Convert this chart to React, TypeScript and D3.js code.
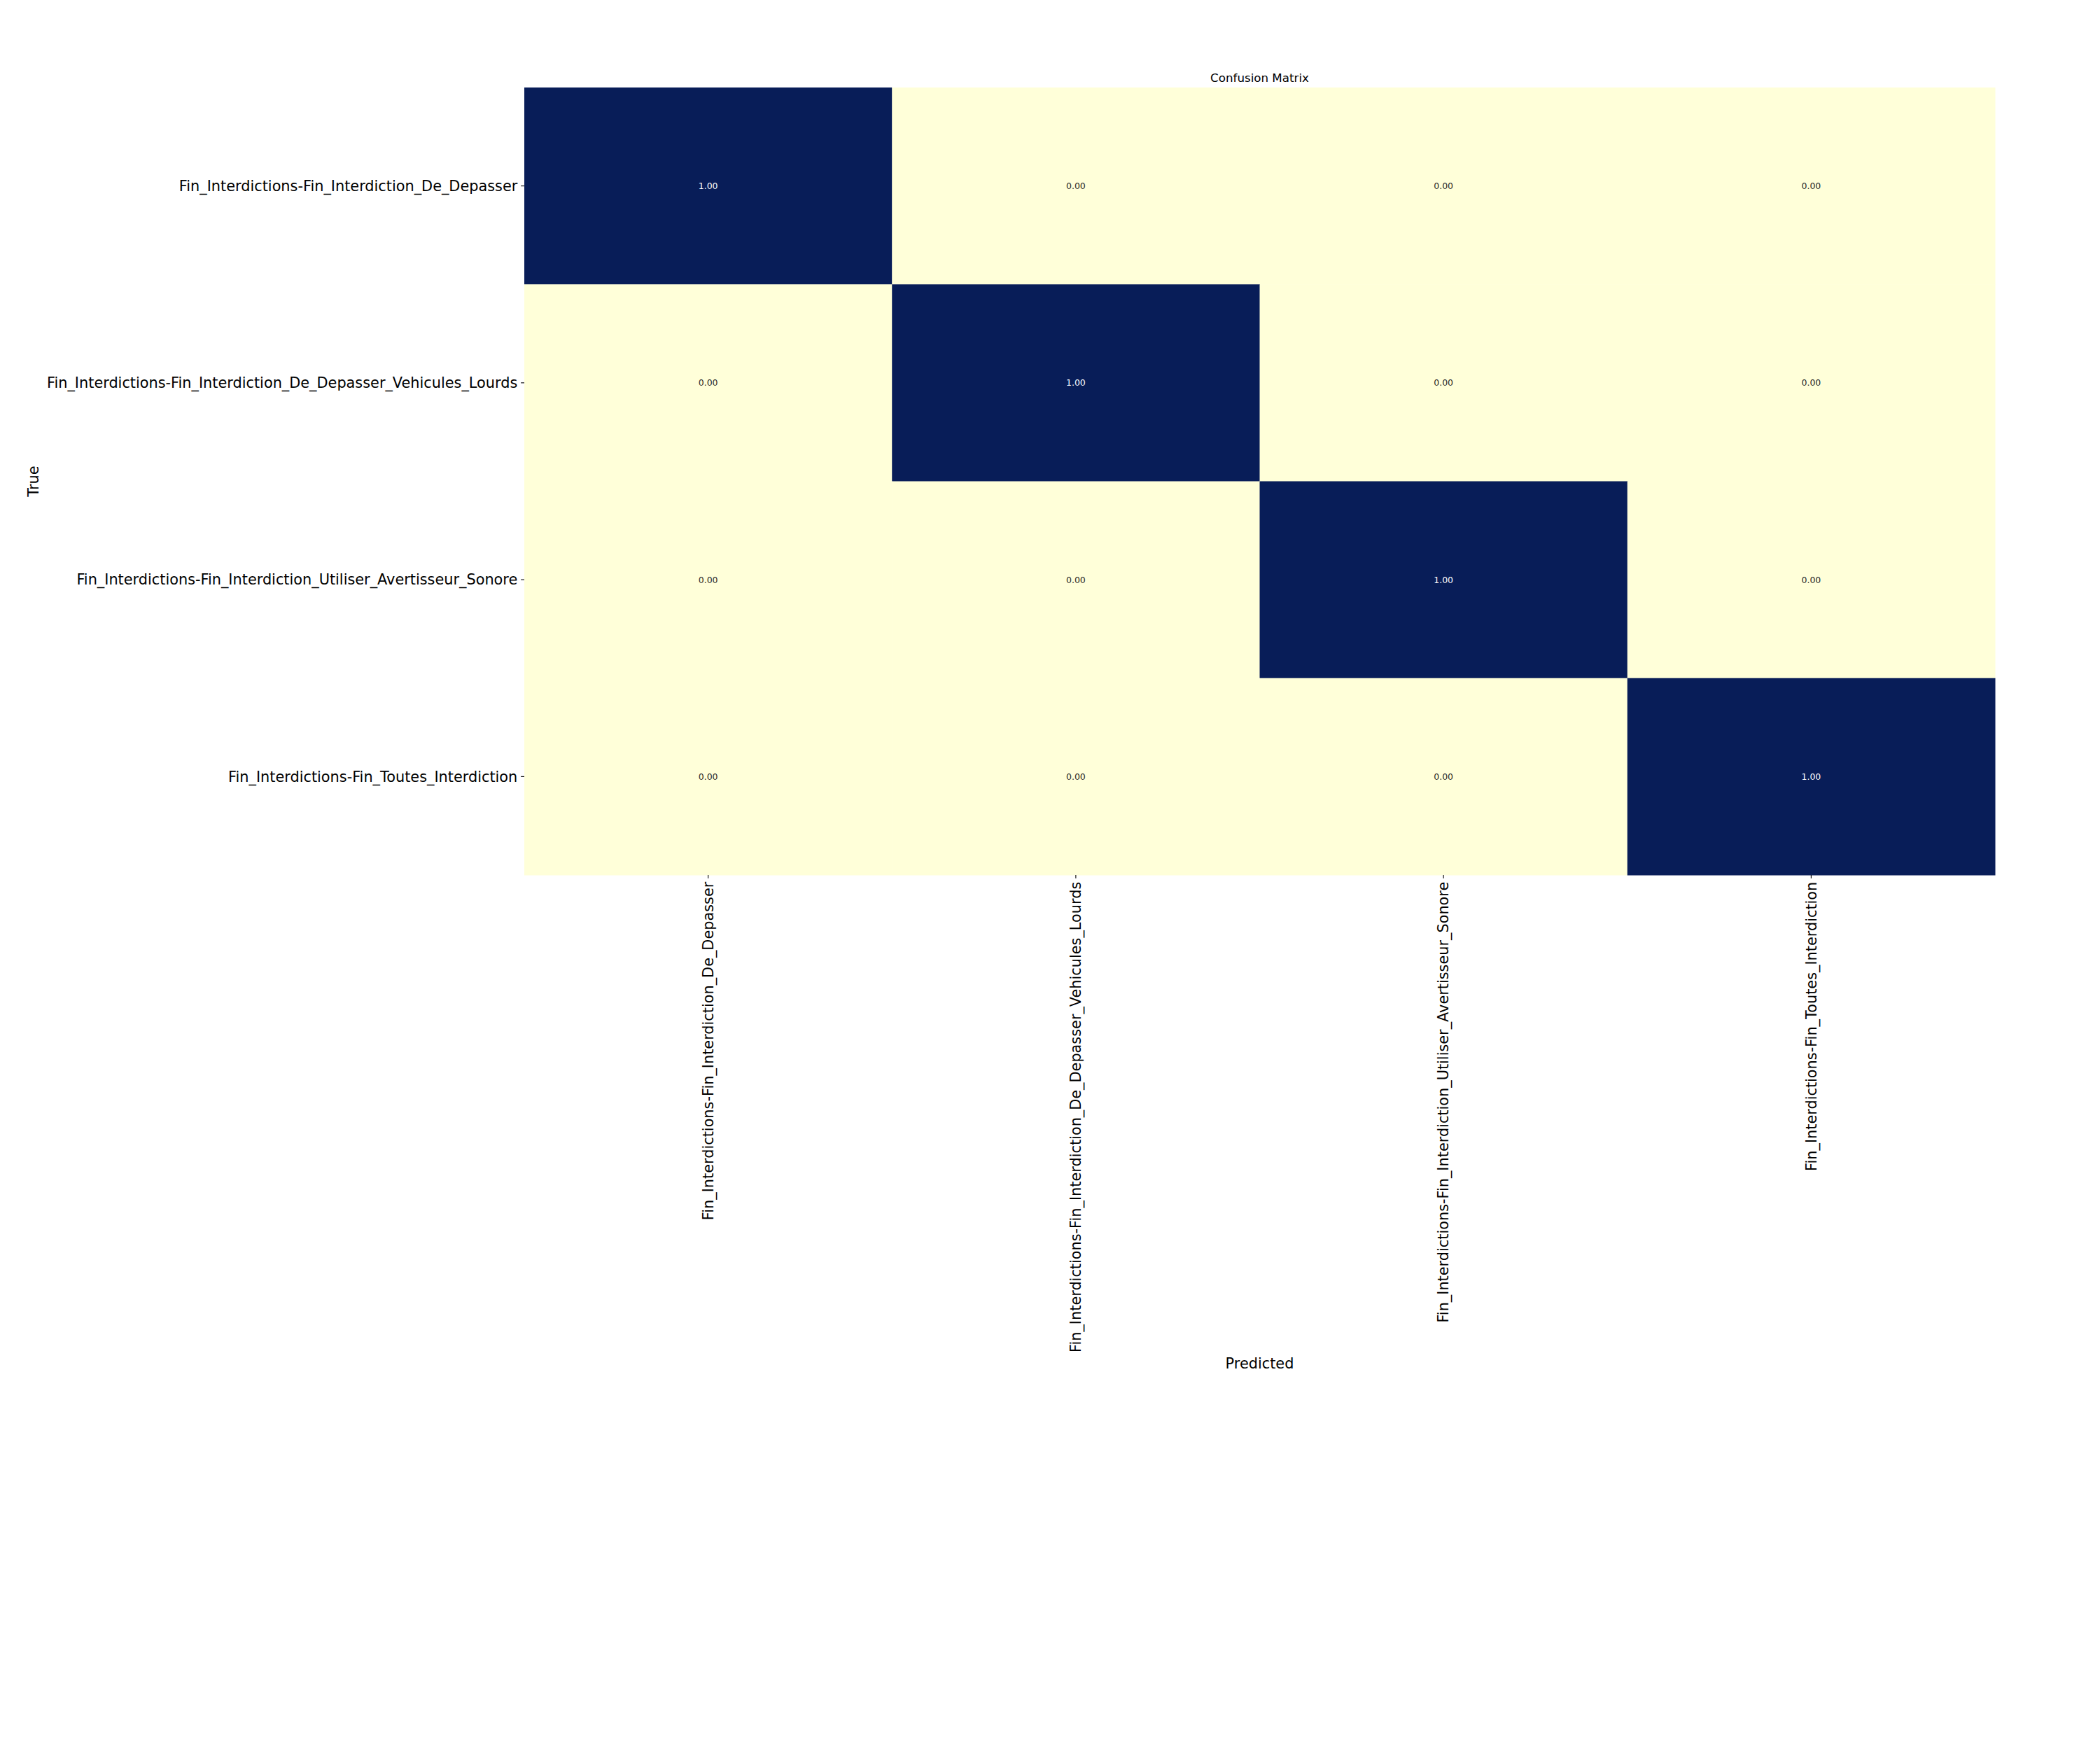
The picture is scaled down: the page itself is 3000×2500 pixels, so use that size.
import { useEffect, useRef } from "react"
import * as d3 from "d3"

// Classes of the confusion matrix
const classes = [
  "Fin_Interdictions-Fin_Interdiction_De_Depasser",
  "Fin_Interdictions-Fin_Interdiction_De_Depasser_Vehicules_Lourds",
  "Fin_Interdictions-Fin_Interdiction_Utiliser_Avertisseur_Sonore",
  "Fin_Interdictions-Fin_Toutes_Interdiction",
]

// Normalised values, rows = true, columns = predicted
const matrix = [
  [1, 0, 0, 0],
  [0, 1, 0, 0],
  [0, 0, 1, 0],
  [0, 0, 0, 1],
]

const title = "Confusion Matrix"
const xLabel = "Predicted"
const yLabel = "True"

export default function App() {
  const svgRef = useRef<SVGSVGElement>(null)

  useEffect(() => {
    if (!svgRef.current) return
    document.body.style.margin = "0"

    const W = 3000
    const H = 2500
    const margin = { top: 125, right: 150, bottom: 1250, left: 749 }
    const width = W - margin.left - margin.right
    const height = H - margin.top - margin.bottom
    const font = "DejaVu Sans, sans-serif"
    const tickFs = 20.83
    const tickLen = 4.86

    const root = d3.select(svgRef.current)
    root.selectAll("*").remove()
    root.attr("width", W).attr("height", H)
    root.append("rect").attr("width", W).attr("height", H).attr("fill", "white")

    const svg = root.append("g").attr("transform", `translate(${margin.left},${margin.top})`)

    const x = d3.scaleBand().domain(classes).range([0, width])
    const y = d3.scaleBand().domain(classes).range([0, height])
    const color = d3.scaleSequential(d3.interpolateYlGnBu).domain([0, 1])

    const cells = matrix.flatMap((row, i) =>
      row.map((value, j) => ({ t: classes[i], p: classes[j], value }))
    )

    // Cells
    svg
      .selectAll("rect.cell")
      .data(cells)
      .enter()
      .append("rect")
      .attr("class", "cell")
      .attr("x", (d) => x(d.p) || 0)
      .attr("y", (d) => y(d.t) || 0)
      .attr("width", x.bandwidth() + 0.5)
      .attr("height", y.bandwidth() + 0.5)
      .attr("fill", (d) => color(d.value))

    // Annotations
    svg
      .selectAll("text.annot")
      .data(cells)
      .enter()
      .append("text")
      .attr("class", "annot")
      .attr("x", (d) => (x(d.p) || 0) + x.bandwidth() / 2)
      .attr("y", (d) => (y(d.t) || 0) + y.bandwidth() / 2)
      .attr("text-anchor", "middle")
      .attr("dominant-baseline", "central")
      .style("font-family", font)
      .style("font-size", "12.5px")
      .style("fill", (d) => (d.value > 0.5 ? "white" : "#262626"))
      .text((d) => d.value.toFixed(2))

    // Y axis
    const yAxis = svg
      .append("g")
      .call(d3.axisLeft(y).tickSize(tickLen).tickPadding(tickLen))
    yAxis.select(".domain").remove()
    yAxis.selectAll("line").attr("stroke", "black").attr("stroke-width", 1.1)
    yAxis
      .selectAll("text")
      .style("font-family", font)
      .style("font-size", `${tickFs}px`)
      .attr("fill", "black")
      .attr("dy", "0.35em")

    // X axis
    const xAxis = svg
      .append("g")
      .attr("transform", `translate(0,${height})`)
      .call(d3.axisBottom(x).tickSize(tickLen).tickPadding(tickLen))
    xAxis.select(".domain").remove()
    xAxis.selectAll("line").attr("stroke", "black").attr("stroke-width", 1.1)
    xAxis
      .selectAll("text")
      .style("font-family", font)
      .style("font-size", `${tickFs}px`)
      .attr("fill", "black")
      .attr("transform", "rotate(-90)")
      .attr("x", -(tickLen * 2))
      .attr("y", 0)
      .attr("dy", "0.35em")
      .attr("text-anchor", "end")

    // Title
    svg
      .append("text")
      .attr("x", width / 2)
      .attr("y", -8.3)
      .attr("text-anchor", "middle")
      .style("font-family", font)
      .style("font-size", "16.7px")
      .text(title)

    // Axis labels
    svg
      .append("text")
      .attr("x", width / 2)
      .attr("y", 1948 - margin.top)
      .attr("text-anchor", "middle")
      .attr("dominant-baseline", "central")
      .style("font-family", font)
      .style("font-size", `${tickFs}px`)
      .text(xLabel)

    svg
      .append("text")
      .attr("transform", `translate(${48 - margin.left},${height / 2}) rotate(-90)`)
      .attr("text-anchor", "middle")
      .attr("dominant-baseline", "central")
      .style("font-family", font)
      .style("font-size", `${tickFs}px`)
      .text(yLabel)
  }, [])

  return <svg ref={svgRef} style={{ display: "block" }} />
}
